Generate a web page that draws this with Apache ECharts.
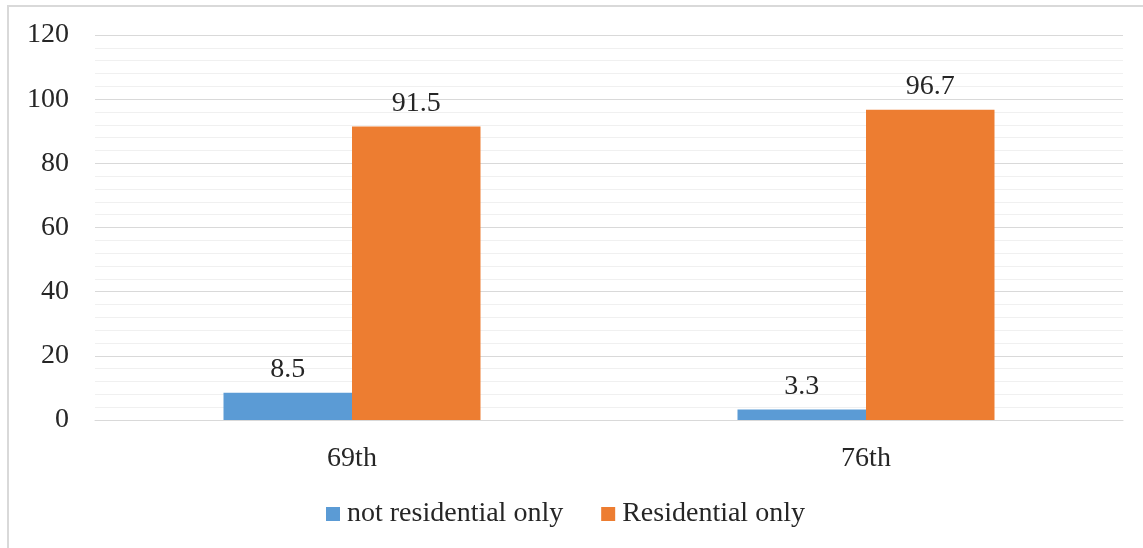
<!DOCTYPE html>
<html>
<head>
<meta charset="utf-8">
<script src="https://cdn.jsdelivr.net/npm/echarts@6/dist/echarts.min.js"></script>
<style>
  html, body { margin: 0; padding: 0; background: #fff; }
  #chart { width: 1143px; height: 548px; }
</style>
</head>
<body>
<div id="chart"></div>
<script>
// Survey rounds and share of households by dwelling use (%)
const rounds = ['69th', '76th'];
const notResidentialOnly = [8.5, 3.3];
const residentialOnly = [91.5, 96.7];
const seriesNames = ['not residential only', 'Residential only'];

const FONT = '"Liberation Serif", "Times New Roman", serif';
const TEXT = '#262626';
const SIZE = 28;

const chart = echarts.init(document.getElementById('chart'));

const labelStyle = {
  show: true,
  position: 'top',
  distance: 9,
  fontFamily: FONT,
  fontSize: SIZE,
  color: TEXT
};

chart.setOption({
  animation: false,
  graphic: [{
    type: 'rect',
    shape: { x: 8, y: 6, width: 1200, height: 600 },
    style: { fill: 'none', stroke: '#d9d9d9', lineWidth: 2 },
    silent: true
  }],
  grid: { left: 95, right: 20, top: 35, bottom: 128 },
  legend: {
    bottom: 15,
    left: 321,
    itemWidth: 14,
    itemHeight: 14,
    itemGap: 38,
    icon: 'rect',
    textStyle: { fontFamily: FONT, fontSize: SIZE, color: TEXT, padding: [0, 0, 0, 2] },
    data: seriesNames
  },
  xAxis: {
    type: 'category',
    data: rounds,
    axisLine: { show: true, lineStyle: { color: '#d9d9d9', width: 1 } },
    axisTick: { show: false },
    axisLabel: { fontFamily: FONT, fontSize: SIZE, color: TEXT, margin: 25 }
  },
  yAxis: {
    type: 'value',
    min: 0,
    max: 120,
    interval: 20,
    axisLine: { show: false },
    axisTick: { show: false },
    axisLabel: { fontFamily: FONT, fontSize: SIZE, color: TEXT, margin: 26 },
    splitLine: { lineStyle: { color: '#d9d9d9', width: 1 } },
    minorTick: { show: false, splitNumber: 5 },
    minorSplitLine: { show: true, lineStyle: { color: '#f0f0f0', width: 1 } }
  },
  series: [
    {
      name: seriesNames[0],
      type: 'bar',
      data: notResidentialOnly,
      barGap: '0%',
      barCategoryGap: '50%',
      itemStyle: { color: '#5B9BD5' },
      label: labelStyle
    },
    {
      name: seriesNames[1],
      type: 'bar',
      data: residentialOnly,
      barGap: '0%',
      barCategoryGap: '50%',
      itemStyle: { color: '#ED7D31' },
      label: labelStyle
    }
  ]
});
</script>
</body>
</html>
